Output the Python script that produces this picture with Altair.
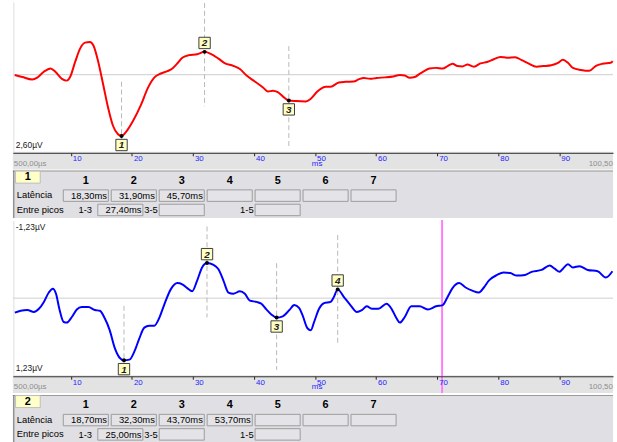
import altair as alt
import pandas as pd

# ---------------------------------------------------------------- time axis (ms)
X_MIN, X_MAX = 0.5, 98.8          # visible part of the 0,5 .. 100,5 ms sweep
AXIS_END = 100.5
TICKS = [10, 20, 30, 40, 50, 60, 70, 80, 90]

# ---------------------------------------------------------------- trace 1 (red)
red_ms = [0.8, 2.06, 3.68, 4.49, 5.58, 6.65, 7.46, 8.54, 9.35, 9.89,
          10.70, 11.51, 12.32, 13.13, 13.68, 14.49, 15.30, 16.11, 16.92, 17.72,
          18.30, 19.07, 20.15, 21.50, 22.58, 23.65, 24.74, 25.82, 26.63, 27.44,
          28.25, 29.32, 30.68, 31.90, 32.83, 34.18, 35.26, 36.61, 37.69, 38.78,
          40.12, 41.47, 42.28, 43.09, 43.89, 44.70, 45.70, 46.87, 48.49, 49.30,
          50.37, 50.92, 51.73, 52.54, 53.89, 54.97, 56.32, 57.13, 57.94, 59.02,
          60.09, 61.45, 62.79, 63.88, 64.69, 65.50, 66.31, 67.12, 67.93, 68.74,
          69.81, 70.89, 71.70, 72.51, 73.32, 74.13, 74.94, 76.02, 77.09, 78.18,
          79.26, 80.33, 81.42, 82.76, 83.85, 84.93, 86.28, 87.36, 88.70, 89.79,
          90.60, 91.41, 92.22, 93.56, 94.91, 95.99, 97.08, 98.42, 98.74]
red_uv = [0.01, 0.08, 0.16, 0.10, -0.10, -0.21, -0.10, 0.14, 0.20, 0.07,
          -0.43, -0.88, -1.08, -1.10, -0.99, -0.43, 0.34, 1.12, 1.73, 2.01,
          2.07, 1.92, 1.57, 1.01, 0.46, 0.10, -0.04, -0.12, -0.21, -0.38,
          -0.57, -0.66, -0.69, -0.77, -0.71, -0.54, -0.38, -0.30, -0.19, 0.03,
          0.23, 0.43, 0.57, 0.54, 0.59, 0.73, 0.87, 0.89, 0.90, 0.81,
          0.57, 0.48, 0.41, 0.41, 0.26, 0.24, 0.23, 0.16, 0.11, 0.14,
          0.11, 0.09, 0.06, 0.01, 0.03, 0.10, 0.08, -0.03, -0.13, -0.21,
          -0.23, -0.21, -0.29, -0.37, -0.29, -0.28, -0.34, -0.27, -0.38, -0.43,
          -0.52, -0.60, -0.57, -0.59, -0.49, -0.38, -0.27, -0.29, -0.32, -0.40,
          -0.50, -0.40, -0.23, -0.16, -0.13, -0.30, -0.37, -0.40, -0.46]
red_peak_id = ["1", "2", "3"]
red_peak_ms = [18.30, 31.90, 45.70]
red_peak_uv = [2.07, -0.77, 0.87]
red_peak_side = ["below", "above", "below"]
red_range_uv = 2.60

# ---------------------------------------------------------------- trace 2 (blue)
blue_ms = [0.82, 1.79, 2.87, 3.96, 4.77, 5.58, 6.39, 7.04, 7.57, 8.11,
           8.82, 9.35, 10.16, 10.97, 11.78, 12.87, 13.94, 14.74, 15.55, 16.36,
           17.17, 17.98, 18.70, 19.60, 20.41, 21.22, 22.03, 22.84, 23.65, 24.46,
           25.27, 26.36, 27.44, 28.25, 29.06, 29.87, 30.68, 31.49, 32.30, 33.37,
           34.18, 34.99, 35.80, 36.61, 37.69, 38.50, 39.31, 40.40, 41.21, 42.02,
           42.83, 43.70, 44.70, 45.79, 46.60, 47.41, 47.94, 48.75, 49.30, 49.84,
           50.65, 51.46, 52.54, 53.08, 53.70, 54.70, 55.78, 56.85, 57.66, 58.47,
           59.28, 60.36, 61.71, 62.52, 63.33, 63.88, 64.69, 65.76, 67.12, 68.46,
           69.81, 70.89, 71.70, 72.51, 73.60, 74.66, 75.75, 76.83, 77.64, 78.45,
           79.80, 80.88, 81.96, 83.04, 84.38, 85.47, 87.09, 88.43, 89.24, 90.05,
           90.60, 91.41, 92.22, 93.30, 94.66, 96.28, 97.61, 98.70]
blue_uv = [0.23, 0.20, 0.19, 0.22, 0.17, 0.06, -0.09, -0.15, -0.07, 0.17,
           0.38, 0.39, 0.30, 0.18, 0.14, 0.14, 0.19, 0.20, 0.32, 0.51,
           0.79, 0.95, 0.99, 0.98, 0.85, 0.64, 0.47, 0.44, 0.44, 0.32,
           0.11, -0.14, -0.24, -0.22, -0.16, -0.11, -0.28, -0.49, -0.56, -0.53,
           -0.46, -0.28, -0.09, -0.07, -0.11, -0.07, 0.04, 0.06, 0.09, 0.18,
           0.26, 0.31, 0.29, 0.19, 0.11, 0.16, 0.27, 0.48, 0.51, 0.38,
           0.17, 0.08, 0.06, -0.02, -0.14, -0.02, 0.11, 0.22, 0.19, 0.13,
           0.17, 0.17, 0.09, 0.17, 0.32, 0.39, 0.30, 0.13, 0.13, 0.18,
           0.13, 0.11, -0.02, -0.16, -0.24, -0.17, -0.12, -0.09, -0.17, -0.28,
           -0.37, -0.41, -0.40, -0.36, -0.37, -0.42, -0.45, -0.52, -0.47, -0.42,
           -0.47, -0.54, -0.49, -0.51, -0.45, -0.43, -0.33, -0.43]
blue_peak_id = ["1", "2", "3", "4"]
blue_peak_ms = [18.70, 32.30, 43.70, 53.70]
blue_peak_uv = [0.99, -0.56, 0.31, -0.14]
blue_peak_side = ["below", "above", "below", "above"]
blue_range_uv = 1.23
blue_cursor_ms = 70.8

# ---------------------------------------------------------------- table content
column_names = ["1", "2", "3", "4", "5", "6", "7"]
interpeak_pairs = [(1, 3), (3, 5), (1, 5)]

# ---------------------------------------------------------------- look
FONT = "Liberation Sans"
BAND_BG = "#e3e3e3"
TABLE_BG = "#e0dfe3"
BOX_BG = "#e4e3e7"
PLOT_W = 607
HALF_PX = 78          # half height of the white trace area
DASH_PX = 55          # reach of the dashed peak markers

# table geometry (column slots / rows)
S_STEP = 48.5
S0 = 1 - 51 / S_STEP
S1 = S0 + PLOT_W / S_STEP
ROW0_PX, ROW_STEP = 10.5, 14.5
BOX_W = 0.94
IP_BOX_X = [1.72, 3.0, 5.0]
IP_LABEL_X = [1.60, 2.97, 4.97]


def fmt(v, unit):
    return f"{v:.2f}".replace(".", ",") + unit


XS = alt.Scale(domain=[X_MIN, X_MAX], nice=False, zero=False)
XAXIS = alt.Axis(values=TICKS, orient="bottom", offset=-17, grid=False, title=None,
                 domainColor="#303030", tickColor="#202020", tickSize=3,
                 labelColor="#2424ff", labelFont=FONT, labelFontSize=8,
                 labelAlign="left", labelBaseline="top", labelPadding=-1,
                 labelOffset=1.5, labelFlush=False, labelOverlap=False, zindex=1)


def trace_panel(ms, uv, ids, pk_ms, pk_uv, pk_side, color, amp, zero_px, height,
                cursor=None, show_top_label=True):
    px_per_uv = HALF_PX / amp
    y_lo = -zero_px / px_per_uv
    y_hi = (height - zero_px) / px_per_uv
    ys = alt.Scale(domain=[y_lo, y_hi], reverse=True, nice=False, zero=False)
    reach = DASH_PX / px_per_uv
    limit = 0.93 * amp

    def X(f):
        return alt.X(f"{f}:Q", scale=XS, axis=XAXIS)

    def Y(f):
        return alt.Y(f"{f}:Q", scale=ys, axis=None)

    trace = pd.DataFrame({"ms": ms, "uv": uv})
    peaks = pd.DataFrame({"id": ids, "ms": pk_ms, "uv": pk_uv, "side": pk_side})

    band = alt.Chart(pd.DataFrame({"y": [amp], "y2": [y_hi]})).mark_rect(
        color=BAND_BG).encode(y=Y("y"), y2="y2:Q")
    zero = alt.Chart(pd.DataFrame({"y": [0.0]})).mark_rule(
        color="#cdcdcd", strokeWidth=1).encode(y=Y("y"))
    edge = alt.Chart(pd.DataFrame({"ms": [X_MIN], "y": [-amp], "y2": [amp]})).mark_rule(
        color="#dedede", xOffset=1, clip=True).encode(x=X("ms"), y=Y("y"), y2="y2:Q")
    dashes = alt.Chart(peaks).transform_calculate(
        lo=f"max(datum.uv - {reach}, {-limit})",
        hi=f"min(datum.uv + {reach}, {limit})",
    ).mark_rule(color="#b8b8b8", strokeDash=[5, 3], clip=True).encode(
        x=X("ms"), y=Y("lo"), y2="hi:Q")
    line = alt.Chart(trace).mark_line(
        color=color, strokeWidth=2, interpolate="monotone").encode(
        x=X("ms"), y=Y("uv"), order="ms:Q")
    dots = alt.Chart(peaks).mark_circle(color="black", size=16, opacity=1).encode(
        x=X("ms"), y=Y("uv"))

    layers = [band, zero, edge, dashes]
    if cursor is not None:
        layers.append(alt.Chart(pd.DataFrame({"ms": [cursor]})).mark_rule(
            color="#ff7cff", strokeWidth=2).encode(x=X("ms")))
    layers += [line, dots]

    for side, off in (("above", -9), ("below", 9)):
        sel = alt.Chart(peaks).transform_filter(f"datum.side == '{side}'")
        layers.append(sel.mark_square(size=132, fill="#ffffc4", stroke="#3c3c3c",
                                      strokeWidth=1, opacity=1, yOffset=off).encode(
            x=X("ms"), y=Y("uv")))
        layers.append(sel.mark_text(font=FONT, fontSize=10, fontWeight="bold",
                                    fontStyle="italic", color="#202020",
                                    yOffset=off + 0.5).encode(
            x=X("ms"), y=Y("uv"), text="id:N"))

    # amplitude range labels
    rng = [(amp, fmt(amp, "µV"), -7)]
    if show_top_label:
        rng.append((-amp, fmt(-amp, "µV"), 6))
    for val, txt, dy in rng:
        layers.append(alt.Chart(pd.DataFrame({"ms": [X_MIN], "uv": [val], "t": [txt]}))
                      .mark_text(font=FONT, fontSize=8.5, color="#1a1a1a", align="left",
                                 baseline="middle", dx=3, dy=dy)
                      .encode(x=X("ms"), y=Y("uv"), text="t:N"))

    # sweep start / end and unit in the time band
    ends = pd.DataFrame({"ms": [X_MIN, AXIS_END],
                         "t": [fmt(X_MIN * 1000, "µs"), fmt(AXIS_END, "ms")],
                         "a": ["left", "right"]})
    for a, dx in (("left", 1), ("right", 0)):
        layers.append(alt.Chart(ends).transform_filter(f"datum.a == '{a}'")
                      .mark_text(font=FONT, fontSize=8, color="#8e8e8e", align=a,
                                 baseline="middle", dx=dx, clip=True)
                      .encode(x=X("ms"), y=alt.value(height - 6), text="t:N"))
    layers.append(alt.Chart(pd.DataFrame({"ms": [TICKS[4]], "t": ["ms"]}))
                  .mark_text(font=FONT, fontSize=8, color="#2424ff", align="center",
                             baseline="middle", dx=2)
                  .encode(x=X("ms"), y=alt.value(height - 6), text="t:N"))

    return alt.layer(*layers).properties(width=PLOT_W, height=height)


def table_panel(trace_no, pk_ms, height):
    r0 = -ROW0_PX / ROW_STEP
    r1 = (height - ROW0_PX) / ROW_STEP
    txs = alt.Scale(domain=[S0, S1], nice=False, zero=False)
    tys = alt.Scale(domain=[r0, r1], reverse=True, nice=False, zero=False)

    def X(f):
        return alt.X(f"{f}:Q", scale=txs, axis=None)

    def Y(f):
        return alt.Y(f"{f}:Q", scale=tys, axis=None)

    n = len(column_names)
    lat_text = [fmt(v, "ms") for v in pk_ms] + [""] * (n - len(pk_ms))
    ip_text = []
    for a, b in interpeak_pairs:
        ip_text.append(fmt(pk_ms[b - 1] - pk_ms[a - 1], "ms")
                       if b <= len(pk_ms) else "")

    cols = pd.DataFrame({"slot": list(range(1, n + 1)), "name": column_names})
    boxes = pd.DataFrame({
        "slot": list(range(1, n + 1)) + IP_BOX_X,
        "row": [1] * n + [2] * len(interpeak_pairs),
        "t": lat_text + ip_text,
    })
    ip_labels = pd.DataFrame({"x": IP_LABEL_X, "row": [2] * len(interpeak_pairs),
                              "t": [f"{a}-{b}" for a, b in interpeak_pairs]})
    row_labels = pd.DataFrame({"x": [0.03, 0.03], "row": [1, 2],
                               "t": ["Latência", "Entre picos"]})

    borders_h = alt.Chart(pd.DataFrame({"x": [S0], "x2": [S1], "y": [r0 + 0.03]})).mark_rule(
        color="#9a9a9a").encode(x=X("x"), x2="x2:Q", y=Y("y"))
    borders_v = alt.Chart(pd.DataFrame({"x": [S0 + 0.02], "y": [r0], "y2": [r1]})).mark_rule(
        color="#6e6e6e").encode(x=X("x"), y=Y("y"), y2="y2:Q")
    tab = alt.Chart(pd.DataFrame({"x": [0.005], "x2": [0.52], "y": [-0.69], "y2": [0.15]})).mark_rect(
        fill="#ffffc8", stroke="#bdbdbd", strokeWidth=1).encode(
        x=X("x"), x2="x2:Q", y=Y("y"), y2="y2:Q")
    tab_t = alt.Chart(pd.DataFrame({"x": [0.26], "y": [-0.27], "t": [str(trace_no)]})).mark_text(
        font=FONT, fontSize=11, fontWeight="bold", color="black", baseline="middle").encode(
        x=X("x"), y=Y("y"), text="t:N")
    heads = alt.Chart(cols).transform_calculate(c=f"datum.slot + {BOX_W / 2}", r="0").mark_text(
        font=FONT, fontSize=11, fontWeight="bold", color="black", baseline="middle").encode(
        x=X("c"), y=Y("r"), text="name:N")
    rlab = alt.Chart(row_labels).mark_text(
        font=FONT, fontSize=9.5, color="black", align="left", baseline="middle").encode(
        x=X("x"), y=Y("row"), text="t:N")
    brect = alt.Chart(boxes).transform_calculate(
        x2=f"datum.slot + {BOX_W}", y=f"datum.row - 0.38", y2=f"datum.row + 0.42").mark_rect(
        fill=BOX_BG, stroke="#9c9c9c", strokeWidth=1).encode(
        x=X("slot"), x2="x2:Q", y=Y("y"), y2="y2:Q")
    btext = alt.Chart(boxes).transform_calculate(xr=f"datum.slot + {BOX_W - 0.03}").mark_text(
        font=FONT, fontSize=9.5, color="black", align="right", baseline="middle", dy=0.5).encode(
        x=X("xr"), y=Y("row"), text="t:N")
    iplab = alt.Chart(ip_labels).mark_text(
        font=FONT, fontSize=9.5, color="black", align="right", baseline="middle", dy=0.5).encode(
        x=X("x"), y=Y("row"), text="t:N")

    return alt.layer(borders_h, borders_v, tab, tab_t, heads, rlab, brect, btext, iplab).properties(
        width=PLOT_W, height=height,
        view=alt.ViewBackground(fill=TABLE_BG, stroke=None))


top = trace_panel(red_ms, red_uv, red_peak_id, red_peak_ms, red_peak_uv, red_peak_side,
                  "#ff0000", red_range_uv, zero_px=73, height=169, show_top_label=False)
top_table = table_panel(1, red_peak_ms, 48)
bottom = trace_panel(blue_ms, blue_uv, blue_peak_id, blue_peak_ms, blue_peak_uv, blue_peak_side,
                     "#0000ff", blue_range_uv, zero_px=79, height=175, cursor=blue_cursor_ms)
bottom_table = table_panel(2, blue_peak_ms, 50)

chart = alt.vconcat(top, top_table, bottom, bottom_table, spacing=0).properties(
    padding={"left": 10, "top": 0, "right": 0, "bottom": 0},
    background="white",
).configure_view(stroke=None)

chart.save("out.html", embed_options={"renderer": "svg", "actions": False})
